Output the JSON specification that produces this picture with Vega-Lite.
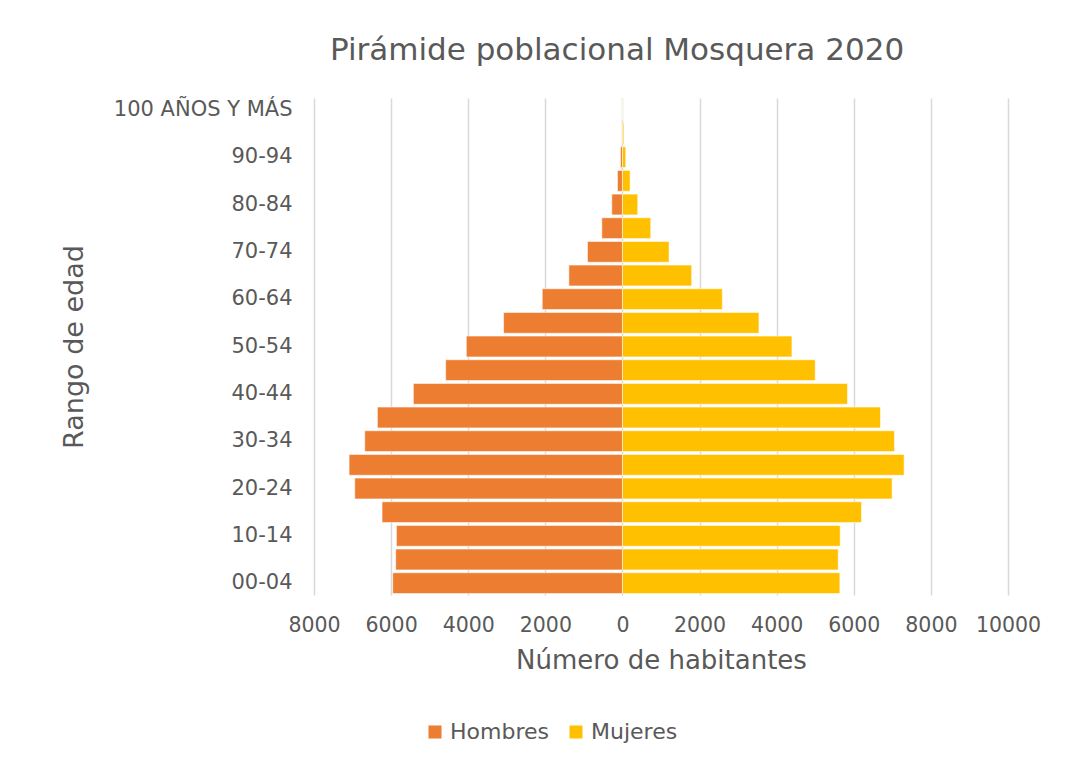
{
  "$schema": "https://vega.github.io/schema/vega-lite/v6.json",
  "width": 694,
  "height": 497,
  "autosize": {"type": "none"},
  "padding": {"left": 314, "top": 98, "right": 67, "bottom": 173},
  "background": "#ffffff",
  "title": {
    "text": "Pirámide poblacional Mosquera 2020",
    "font": "DejaVu Sans",
    "fontSize": 31,
    "fontWeight": "normal",
    "color": "#595959",
    "anchor": "middle",
    "frame": "group",
    "dx": -44,
    "offset": 31
  },
  "data": {
    "values": [
      {"edad": "00-04", "sexo": "Hombres", "valor": -5959},
      {"edad": "05-09", "sexo": "Hombres", "valor": -5881},
      {"edad": "10-14", "sexo": "Hombres", "valor": -5863},
      {"edad": "15-19", "sexo": "Hombres", "valor": -6235},
      {"edad": "20-24", "sexo": "Hombres", "valor": -6943},
      {"edad": "25-29", "sexo": "Hombres", "valor": -7090},
      {"edad": "30-34", "sexo": "Hombres", "valor": -6684},
      {"edad": "35-39", "sexo": "Hombres", "valor": -6356},
      {"edad": "40-44", "sexo": "Hombres", "valor": -5423},
      {"edad": "45-49", "sexo": "Hombres", "valor": -4585},
      {"edad": "50-54", "sexo": "Hombres", "valor": -4050},
      {"edad": "55-59", "sexo": "Hombres", "valor": -3083},
      {"edad": "60-64", "sexo": "Hombres", "valor": -2081},
      {"edad": "65-69", "sexo": "Hombres", "valor": -1390},
      {"edad": "70-74", "sexo": "Hombres", "valor": -907},
      {"edad": "75-79", "sexo": "Hombres", "valor": -535},
      {"edad": "80-84", "sexo": "Hombres", "valor": -276},
      {"edad": "85-89", "sexo": "Hombres", "valor": -130},
      {"edad": "90-94", "sexo": "Hombres", "valor": -52},
      {"edad": "95-99", "sexo": "Hombres", "valor": -12},
      {"edad": "100 AÑOS Y MÁS", "sexo": "Hombres", "valor": -4},
      {"edad": "00-04", "sexo": "Mujeres", "valor": 5639},
      {"edad": "05-09", "sexo": "Mujeres", "valor": 5596},
      {"edad": "10-14", "sexo": "Mujeres", "valor": 5648},
      {"edad": "15-19", "sexo": "Mujeres", "valor": 6200},
      {"edad": "20-24", "sexo": "Mujeres", "valor": 6995},
      {"edad": "25-29", "sexo": "Mujeres", "valor": 7306},
      {"edad": "30-34", "sexo": "Mujeres", "valor": 7055},
      {"edad": "35-39", "sexo": "Mujeres", "valor": 6692},
      {"edad": "40-44", "sexo": "Mujeres", "valor": 5837},
      {"edad": "45-49", "sexo": "Mujeres", "valor": 5000},
      {"edad": "50-54", "sexo": "Mujeres", "valor": 4396},
      {"edad": "55-59", "sexo": "Mujeres", "valor": 3541},
      {"edad": "60-64", "sexo": "Mujeres", "valor": 2591},
      {"edad": "65-69", "sexo": "Mujeres", "valor": 1796},
      {"edad": "70-74", "sexo": "Mujeres", "valor": 1209},
      {"edad": "75-79", "sexo": "Mujeres", "valor": 734},
      {"edad": "80-84", "sexo": "Mujeres", "valor": 397},
      {"edad": "85-89", "sexo": "Mujeres", "valor": 199},
      {"edad": "90-94", "sexo": "Mujeres", "valor": 86},
      {"edad": "95-99", "sexo": "Mujeres", "valor": 35},
      {"edad": "100 AÑOS Y MÁS", "sexo": "Mujeres", "valor": 10}
    ]
  },
  "mark": {"type": "bar", "stroke": "#ffffff", "strokeWidth": 0.8, "strokeOpacity": 0.7},
  "encoding": {
    "y": {
      "field": "edad",
      "type": "nominal",
      "sort": ["100 AÑOS Y MÁS", "95-99", "90-94", "85-89", "80-84", "75-79", "70-74", "65-69", "60-64", "55-59", "50-54", "45-49", "40-44", "35-39", "30-34", "25-29", "20-24", "15-19", "10-14", "05-09", "00-04"],
      "scale": {"paddingInner": 0.12, "paddingOuter": 0.06},
      "axis": {
        "title": "Rango de edad",
        "values": ["100 AÑOS Y MÁS", "90-94", "80-84", "70-74", "60-64", "50-54", "40-44", "30-34", "20-24", "10-14", "00-04"],
        "domain": false,
        "ticks": false,
        "labelPadding": 22,
        "labelFont": "DejaVu Sans",
        "labelFontSize": 21,
        "labelColor": "#595959",
        "titleFont": "DejaVu Sans",
        "titleFontSize": 27,
        "titleFontWeight": "normal",
        "titleColor": "#595959",
        "titlePadding": 26
      }
    },
    "x": {
      "field": "valor",
      "type": "quantitative",
      "scale": {"domain": [-8000, 10000], "nice": false, "zero": false},
      "axis": {
        "title": "Número de habitantes",
        "values": [-8000, -6000, -4000, -2000, 0, 2000, 4000, 6000, 8000, 10000],
        "labelExpr": "abs(datum.value)",
        "format": "d",
        "grid": true,
        "gridColor": "#d9d9d9",
        "gridWidth": 1.5,
        "domain": false,
        "ticks": false,
        "labelFlush": false,
        "labelPadding": 20,
        "labelFont": "DejaVu Sans",
        "labelFontSize": 20.5,
        "labelColor": "#595959",
        "labelOverlap": false,
        "titleFont": "DejaVu Sans",
        "titleFontSize": 26,
        "titleFontWeight": "normal",
        "titleColor": "#595959",
        "titlePadding": 12
      }
    },
    "color": {
      "field": "sexo",
      "type": "nominal",
      "scale": {"domain": ["Hombres", "Mujeres"], "range": ["#ED7D31", "#FFC000"]},
      "legend": {
        "title": null,
        "orient": "none",
        "direction": "horizontal",
        "legendX": 110,
        "legendY": 623,
        "symbolType": "square",
        "symbolSize": 170,
        "symbolStrokeWidth": 0,
        "labelFont": "DejaVu Sans",
        "labelFontSize": 22,
        "labelColor": "#595959",
        "labelOffset": 4,
        "columnPadding": 16
      }
    }
  },
  "config": {
    "view": {"stroke": null}
  }
}
